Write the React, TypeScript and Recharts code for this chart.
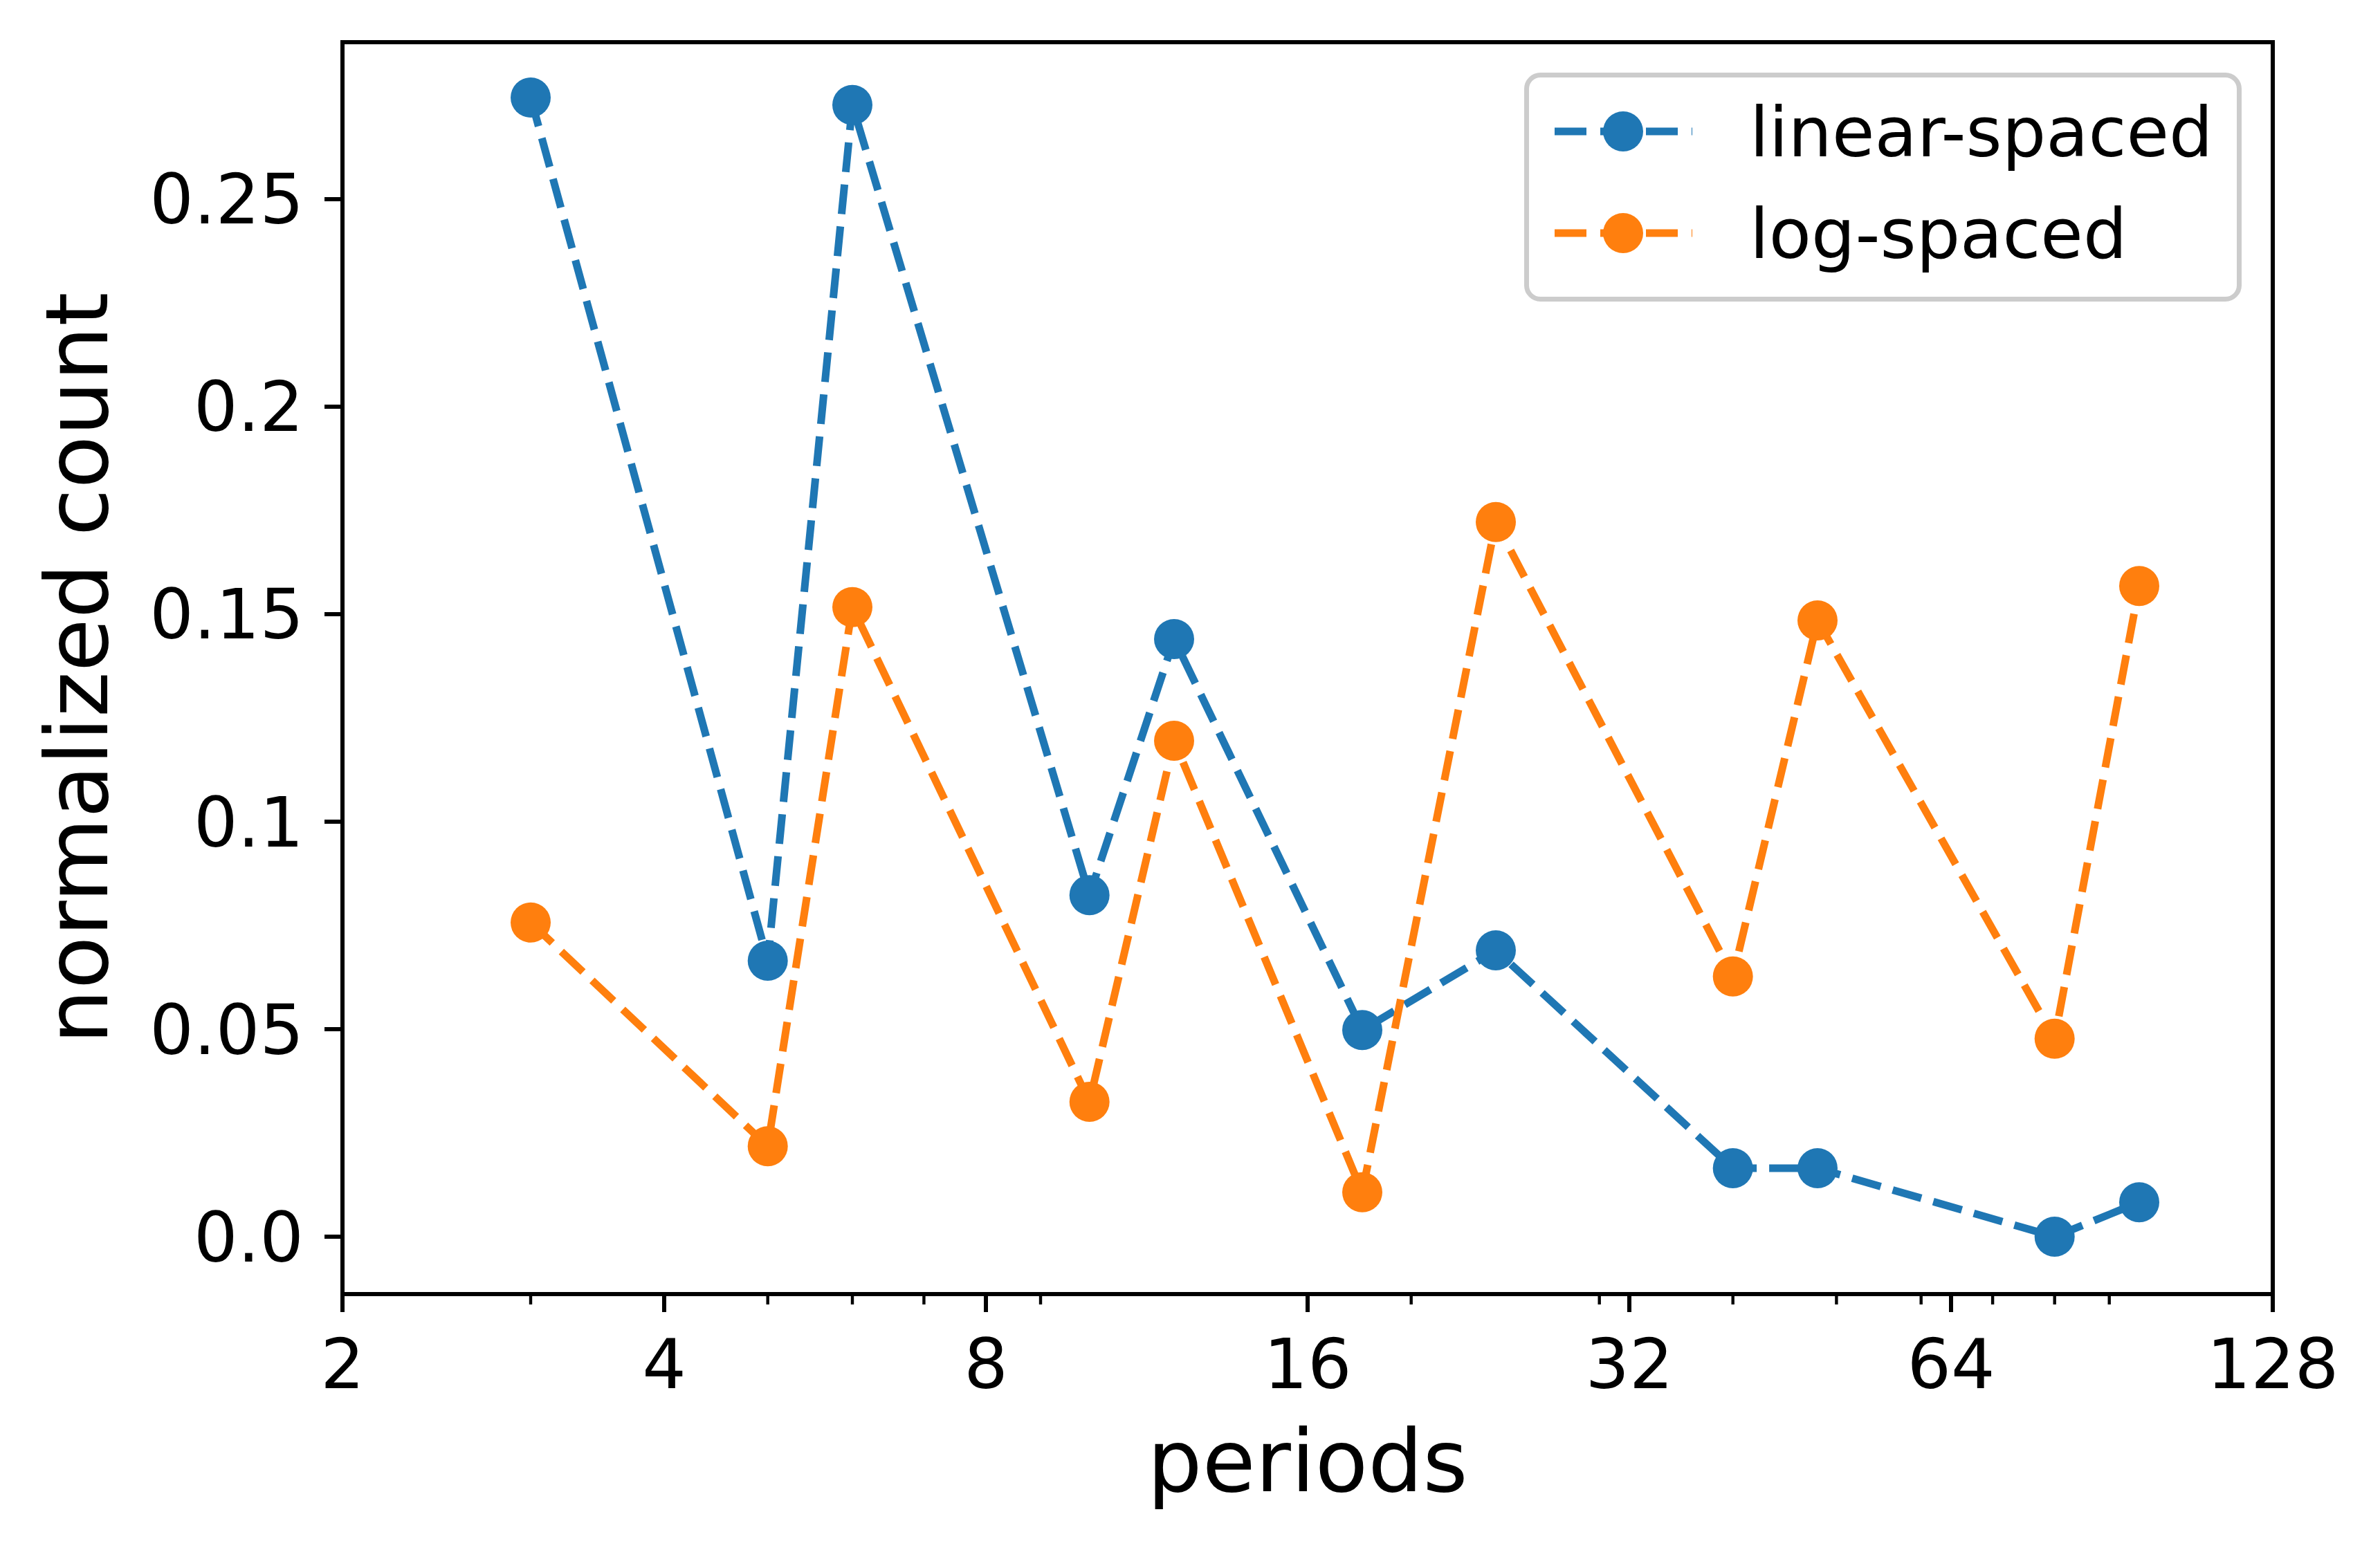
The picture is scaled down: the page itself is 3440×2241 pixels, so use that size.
import React from "react";
import {
  Legend,
  Line,
  LineChart,
  ReferenceArea,
  XAxis,
  YAxis,
} from "recharts";

// data
const periods = [3, 5, 6, 10, 12, 18, 24, 40, 48, 80, 96];
const linearSpaced = [
  0.2745, 0.0665, 0.2727, 0.0823, 0.144, 0.0498, 0.069, 0.0165, 0.0165, 0.0,
  0.0083,
];
const logSpaced = [
  0.0757, 0.0218, 0.1517, 0.0325, 0.1195, 0.0107, 0.1722, 0.0627, 0.1485,
  0.0477, 0.1568,
];

const xMajorTicks = [2, 4, 8, 16, 32, 64, 128];
const xMinorTicks = [3, 5, 6, 7, 9, 20, 30, 40, 50, 60, 70, 80, 90];
const yTicks = [0, 0.05, 0.1, 0.15, 0.2, 0.25];
const yTickLabels = ["0.0", "0.05", "0.1", "0.15", "0.2", "0.25"];

const X_DOMAIN: [number, number] = [2, 128];
const Y_DOMAIN: [number, number] = [-0.01383, 0.28783];

const SERIES = [
  { key: "linear", name: "linear-spaced", color: "#1f77b4" },
  { key: "log", name: "log-spaced", color: "#ff7f0e" },
];

const rows = periods.map((p, i) => ({
  period: p,
  linear: linearSpaced[i],
  log: logSpaced[i],
}));

const FONT = "DejaVu Sans";
const TICK_FONT = 100;
const LABEL_FONT = 125;
const DASH = "43 18";

function PeriodTick(props: any) {
  const { x, y, payload } = props;
  const major = xMajorTicks.includes(payload.value);
  return (
    <g>
      <line
        x1={x}
        x2={x}
        y1={y}
        y2={y + (major ? 26 : 15)}
        stroke="#000"
        strokeWidth={major ? 6 : 4.4}
      />
      {major && (
        <text
          x={x}
          y={y + 136}
          textAnchor="middle"
          fontSize={TICK_FONT}
          fontFamily={FONT}
          fill="#000"
        >
          {payload.value}
        </text>
      )}
    </g>
  );
}

// legend box, drawn like matplotlib's framed legend
function LegendBox() {
  return (
    <svg width={1037} height={331}>
      <rect
        x={3.5}
        y={3.5}
        width={1030}
        height={324}
        rx={20}
        fill="#fff"
        fillOpacity={0.8}
        stroke="#cccccc"
        strokeWidth={7}
      />
      {SERIES.map((s, i) => {
        const cy = 85 + i * 147;
        return (
          <g key={s.key}>
            <line
              x1={44}
              x2={243}
              y1={cy}
              y2={cy}
              stroke={s.color}
              strokeWidth={11}
              strokeDasharray="46 20"
            />
            <circle cx={143} cy={cy} r={29} fill={s.color} />
            <text
              x={326}
              y={cy + 36}
              fontSize={TICK_FONT}
              fontFamily={FONT}
              fill="#000"
            >
              {s.name}
            </text>
          </g>
        );
      })}
    </svg>
  );
}

export default function App() {
  return (
    <div
      style={{
        position: "absolute",
        left: 0,
        top: 0,
        width: 3440,
        height: 2241,
        background: "#fff",
        overflow: "hidden",
      }}
    >
      <LineChart
        width={3440}
        height={2241}
        data={rows}
        margin={{ top: 61, right: 155, bottom: 0, left: 0 }}
      >
        <XAxis
          dataKey="period"
          type="number"
          scale="log"
          domain={X_DOMAIN}
          allowDataOverflow
          ticks={[...xMajorTicks, ...xMinorTicks]}
          interval={0}
          height={370}
          axisLine={false}
          tickLine={false}
          tickSize={0}
          tickMargin={0}
          tick={<PeriodTick />}
          label={{
            content: (p: any) => {
              const vb = p.viewBox;
              return (
                <text
                  x={vb.x + vb.width / 2}
                  y={vb.y + 285}
                  textAnchor="middle"
                  fontSize={LABEL_FONT}
                  fontFamily={FONT}
                  fill="#000"
                >
                  periods
                </text>
              );
            },
          }}
        />
        <YAxis
          type="number"
          domain={Y_DOMAIN}
          allowDataOverflow
          ticks={yTicks}
          interval={0}
          width={495}
          axisLine={false}
          tickSize={26}
          tickMargin={30}
          tickLine={{ stroke: "#000", strokeWidth: 6 }}
          tick={{ fontSize: TICK_FONT, fontFamily: FONT, fill: "#000" }}
          tickFormatter={(v: number) => yTickLabels[yTicks.indexOf(v)] ?? String(v)}
          label={{
            content: (p: any) => {
              const vb = p.viewBox;
              const cx = vb.x + 155;
              const cy = vb.y + vb.height / 2;
              return (
                <text
                  x={cx}
                  y={cy}
                  transform={`rotate(-90, ${cx}, ${cy})`}
                  textAnchor="middle"
                  fontSize={LABEL_FONT}
                  fontFamily={FONT}
                  fill="#000"
                >
                  normalized count
                </text>
              );
            },
          }}
        />
        {SERIES.map((s) => (
          <Line
            key={s.key}
            dataKey={s.key}
            name={s.name}
            type="linear"
            stroke={s.color}
            strokeWidth={11}
            strokeDasharray={DASH}
            dot={{ r: 29, fill: s.color, stroke: s.color, strokeWidth: 0 }}
            activeDot={false}
            isAnimationActive={false}
          />
        ))}
        <ReferenceArea
          x1={X_DOMAIN[0]}
          x2={X_DOMAIN[1]}
          y1={Y_DOMAIN[0]}
          y2={Y_DOMAIN[1]}
          ifOverflow="visible"
          fill="none"
          stroke="#000"
          strokeWidth={6}
        />
        <Legend
          layout="vertical"
          align="center"
          verticalAlign="middle"
          wrapperStyle={{ left: 2203, top: 105, width: 1037, height: 331 }}
          content={() => <LegendBox />}
        />
      </LineChart>
    </div>
  );
}
